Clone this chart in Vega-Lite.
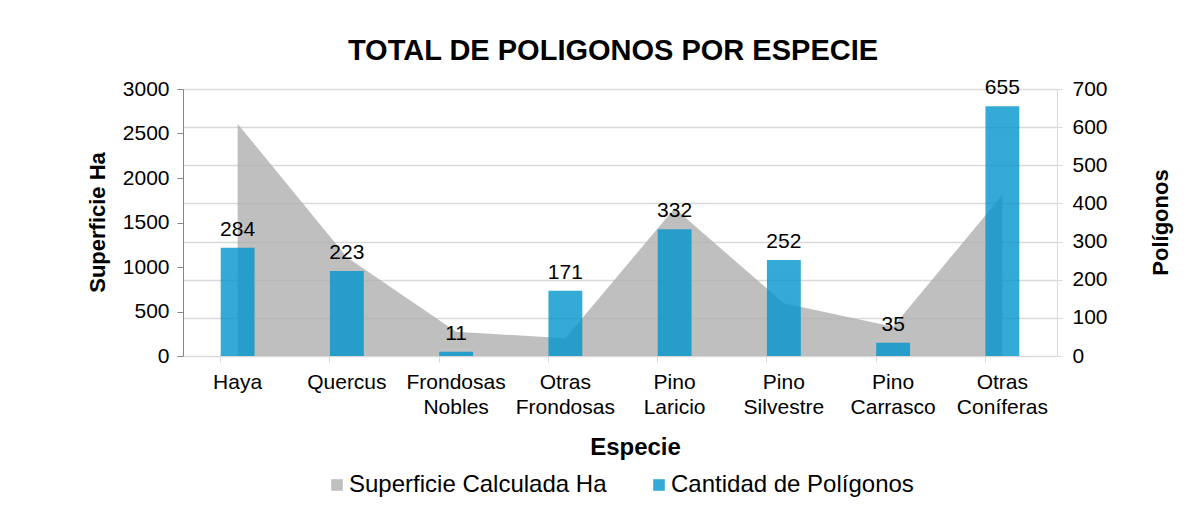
{
  "$schema": "https://vega.github.io/schema/vega-lite/v6.json",
  "autosize": "none",
  "width": 874,
  "height": 267,
  "padding": {"left": 183, "top": 89, "right": 145, "bottom": 156},
  "background": "white",
  "config": {
    "font": "Liberation Sans",
    "view": {"stroke": null},
    "axis": {"labelFont": "Liberation Sans", "titleFont": "Liberation Sans", "labelColor": "#000000", "titleColor": "#000000"}
  },
  "title": {
    "text": "TOTAL DE POLIGONOS POR ESPECIE",
    "fontSize": 29,
    "fontWeight": "bold",
    "font": "Liberation Sans",
    "color": "#000000",
    "anchor": "middle",
    "offset": 11,
    "dx": -7
  },
  "data": {
    "values": [
      {"especie": "Haya", "superficie": 2610, "poligonos": 284},
      {"especie": "Quercus", "superficie": 1110, "poligonos": 223},
      {"especie": "Frondosas Nobles", "superficie": 273, "poligonos": 11},
      {"especie": "Otras Frondosas", "superficie": 200, "poligonos": 171},
      {"especie": "Pino Laricio", "superficie": 1660, "poligonos": 332},
      {"especie": "Pino Silvestre", "superficie": 592, "poligonos": 252},
      {"especie": "Pino Carrasco", "superficie": 329, "poligonos": 35},
      {"especie": "Otras Coníferas", "superficie": 1810, "poligonos": 655}
    ]
  },
  "encoding": {
    "x": {
      "field": "especie",
      "type": "nominal",
      "sort": null,
      "scale": {"paddingInner": 0.69, "paddingOuter": 0.345},
      "axis": {
        "title": "Especie",
        "titleFontSize": 24,
        "titleFontWeight": "bold",
        "titleX": 452,
        "titleY": 91,
        "titleBaseline": "middle",
        "titleAlign": "center",
        "labelAngle": 0,
        "labelFontSize": 21,
        "labelLineHeight": 25,
        "labelPadding": 9,
        "labelExpr": "split(datum.label, ' ')",
        "domainColor": "#D9D9D9",
        "tickColor": "#D9D9D9",
        "tickSize": 6,
        "bandPosition": 0,
        "grid": false
      }
    }
  },
  "layer": [
    {
      "mark": {"type": "area", "opacity": 0.8},
      "encoding": {
        "y": {
          "field": "superficie",
          "type": "quantitative",
          "scale": {"domain": [0, 3000], "nice": false},
          "axis": {
            "title": "Superficie Ha",
            "titleFontSize": 22,
            "titleFontWeight": "bold",
            "titleX": -86,
            "titleY": 133,
            "titleBaseline": "middle",
            "titleAlign": "center",
            "orient": "left",
            "values": [0, 500, 1000, 1500, 2000, 2500, 3000],
            "format": "d",
            "labelFontSize": 21,
            "labelPadding": 8,
            "grid": false,
            "domainColor": "#868686",
            "tickColor": "#868686",
            "tickSize": 6
          }
        },
        "color": {
          "datum": "Superficie Calculada Ha",
          "type": "nominal",
          "scale": {"domain": ["Superficie Calculada Ha", "Cantidad de Polígonos"], "range": ["#AFAFAF", "#0096CC"]},
          "legend": {
            "title": null,
            "orient": "none",
            "legendX": 142,
            "legendY": 384,
            "direction": "horizontal",
            "symbolType": "square",
            "symbolSize": 135,
            "symbolStrokeWidth": 0,
            "symbolOpacity": 0.8,
            "labelFontSize": 24,
            "labelLimit": 500,
            "labelFont": "Liberation Sans",
            "labelColor": "#000000",
            "columnPadding": 40,
            "symbolOffset": 0,
            "labelOffset": 0
          }
        }
      }
    },
    {
      "mark": {"type": "bar", "opacity": 0.8},
      "encoding": {
        "y": {
          "field": "poligonos",
          "type": "quantitative",
          "scale": {"domain": [0, 700], "nice": false},
          "axis": {
            "title": "Polígonos",
            "titleFontSize": 22,
            "titleFontWeight": "bold",
            "titleAngle": 270,
            "titleX": 103,
            "titleY": 133,
            "titleBaseline": "middle",
            "titleAlign": "center",
            "orient": "right",
            "values": [0, 100, 200, 300, 400, 500, 600, 700],
            "labelFontSize": 21,
            "labelPadding": 10,
            "grid": true,
            "gridColor": "#D9D9D9",
            "gridWidth": 1.5,
            "domainColor": "#D9D9D9",
            "tickColor": "#D9D9D9",
            "tickSize": 5
          }
        },
        "color": {"datum": "Cantidad de Polígonos", "type": "nominal"}
      }
    },
    {
      "mark": {"type": "text", "baseline": "bottom", "dy": -8, "fontSize": 21, "color": "#000000", "font": "Liberation Sans"},
      "encoding": {
        "y": {"field": "poligonos", "type": "quantitative", "scale": {"domain": [0, 700], "nice": false}, "axis": null},
        "text": {"field": "poligonos", "type": "quantitative"}
      }
    }
  ],
  "resolve": {"scale": {"y": "independent"}}
}
